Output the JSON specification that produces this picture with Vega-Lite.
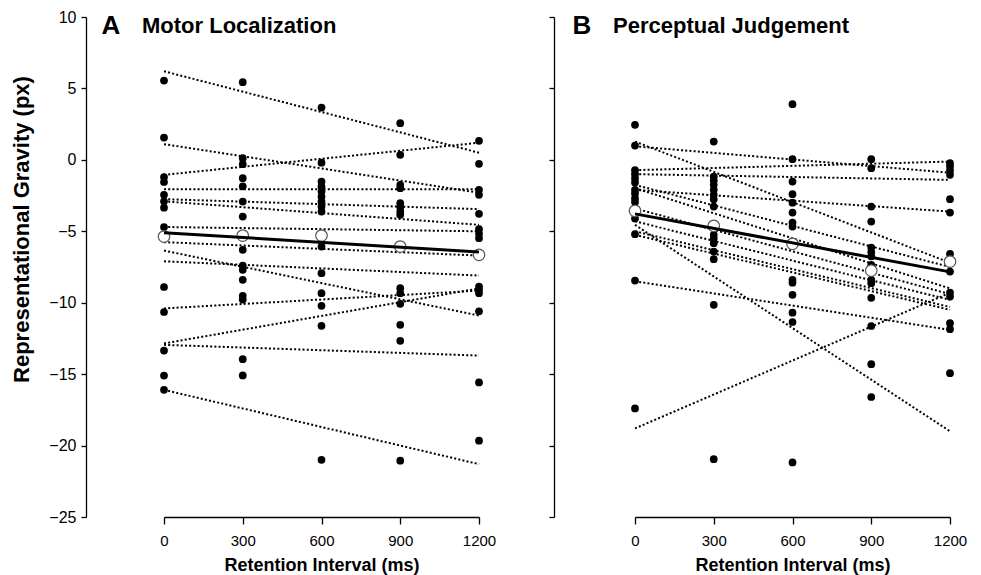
{
  "$schema": "https://vega.github.io/schema/vega-lite/v6.json",
  "padding": {"left": 10, "top": 9, "right": 10, "bottom": 5},
  "background": "white",
  "spacing": 156,
  "bounds": "flush",
  "config": {
    "view": {"stroke": null},
    "font": "Liberation Sans",
    "axis": {
      "grid": false,
      "domainColor": "black",
      "domainWidth": 1.3,
      "tickColor": "black",
      "tickWidth": 1.3,
      "labelColor": "black",
      "titleColor": "black",
      "labelFont": "Liberation Sans",
      "titleFont": "Liberation Sans",
      "titleFontWeight": "bold"
    },
    "axisX": {"tickSize": 7, "labelPadding": 9, "labelFontSize": 15, "titleFontSize": 18, "titlePadding": 8, "labelFlush": false, "format": "d"},
    "axisY": {"tickSize": 5, "labelPadding": 5, "labelFontSize": 16, "titleFontSize": 22},
    "title": {
      "anchor": "start",
      "frame": "group",
      "font": "Liberation Sans",
      "fontSize": 22,
      "fontWeight": "bold",
      "color": "black",
      "dx": -22
    }
  },
  "datasets": {
    "points": [
      {"p":"A","t":0,"g":5.55},{"p":"A","t":0,"g":1.56},{"p":"A","t":0,"g":-1.2},{"p":"A","t":0,"g":-1.55},{"p":"A","t":0,"g":-2.45},{"p":"A","t":0,"g":-2.9},{"p":"A","t":0,"g":-3.35},{"p":"A","t":0,"g":-4.7},{"p":"A","t":0,"g":-8.9},{"p":"A","t":0,"g":-10.65},{"p":"A","t":0,"g":-13.35},{"p":"A","t":0,"g":-15.1},{"p":"A","t":0,"g":-16.1},
      {"p":"A","t":300,"g":5.44},{"p":"A","t":300,"g":0.12},{"p":"A","t":300,"g":-0.3},{"p":"A","t":300,"g":-1.28},{"p":"A","t":300,"g":-1.85},{"p":"A","t":300,"g":-2.92},{"p":"A","t":300,"g":-3.97},{"p":"A","t":300,"g":-6.3},{"p":"A","t":300,"g":-7.4},{"p":"A","t":300,"g":-7.7},{"p":"A","t":300,"g":-8.4},{"p":"A","t":300,"g":-9.52},{"p":"A","t":300,"g":-9.78},{"p":"A","t":300,"g":-13.95},{"p":"A","t":300,"g":-15.09},
      {"p":"A","t":600,"g":3.66},{"p":"A","t":600,"g":-0.2},{"p":"A","t":600,"g":-1.52},{"p":"A","t":600,"g":-1.87},{"p":"A","t":600,"g":-2.22},{"p":"A","t":600,"g":-2.57},{"p":"A","t":600,"g":-2.92},{"p":"A","t":600,"g":-3.27},{"p":"A","t":600,"g":-3.62},{"p":"A","t":600,"g":-6.07},{"p":"A","t":600,"g":-7.93},{"p":"A","t":600,"g":-9.33},{"p":"A","t":600,"g":-10.22},{"p":"A","t":600,"g":-11.62},{"p":"A","t":600,"g":-21.0},
      {"p":"A","t":900,"g":2.57},{"p":"A","t":900,"g":0.35},{"p":"A","t":900,"g":-1.75},{"p":"A","t":900,"g":-1.98},{"p":"A","t":900,"g":-3.03},{"p":"A","t":900,"g":-3.31},{"p":"A","t":900,"g":-3.62},{"p":"A","t":900,"g":-3.85},{"p":"A","t":900,"g":-8.98},{"p":"A","t":900,"g":-9.33},{"p":"A","t":900,"g":-10.08},{"p":"A","t":900,"g":-11.55},{"p":"A","t":900,"g":-12.67},{"p":"A","t":900,"g":-21.06},
      {"p":"A","t":1200,"g":1.33},{"p":"A","t":1200,"g":-0.28},{"p":"A","t":1200,"g":-2.1},{"p":"A","t":1200,"g":-2.45},{"p":"A","t":1200,"g":-3.78},{"p":"A","t":1200,"g":-4.85},{"p":"A","t":1200,"g":-5.18},{"p":"A","t":1200,"g":-5.48},{"p":"A","t":1200,"g":-8.87},{"p":"A","t":1200,"g":-9.1},{"p":"A","t":1200,"g":-9.33},{"p":"A","t":1200,"g":-10.6},{"p":"A","t":1200,"g":-15.58},{"p":"A","t":1200,"g":-19.66},
      {"p":"B","t":0,"g":2.45},{"p":"B","t":0,"g":1.0},{"p":"B","t":0,"g":-0.72},{"p":"B","t":0,"g":-1.0},{"p":"B","t":0,"g":-1.3},{"p":"B","t":0,"g":-1.58},{"p":"B","t":0,"g":-2.1},{"p":"B","t":0,"g":-2.35},{"p":"B","t":0,"g":-2.7},{"p":"B","t":0,"g":-2.95},{"p":"B","t":0,"g":-4.1},{"p":"B","t":0,"g":-5.2},{"p":"B","t":0,"g":-8.45},{"p":"B","t":0,"g":-17.4},
      {"p":"B","t":300,"g":1.28},{"p":"B","t":300,"g":-1.17},{"p":"B","t":300,"g":-1.45},{"p":"B","t":300,"g":-1.75},{"p":"B","t":300,"g":-2.1},{"p":"B","t":300,"g":-2.45},{"p":"B","t":300,"g":-2.75},{"p":"B","t":300,"g":-3.27},{"p":"B","t":300,"g":-5.25},{"p":"B","t":300,"g":-5.5},{"p":"B","t":300,"g":-5.83},{"p":"B","t":300,"g":-6.42},{"p":"B","t":300,"g":-6.95},{"p":"B","t":300,"g":-10.15},{"p":"B","t":300,"g":-20.95},
      {"p":"B","t":600,"g":3.9},{"p":"B","t":600,"g":0.05},{"p":"B","t":600,"g":-1.52},{"p":"B","t":600,"g":-2.4},{"p":"B","t":600,"g":-3.0},{"p":"B","t":600,"g":-3.69},{"p":"B","t":600,"g":-4.39},{"p":"B","t":600,"g":-4.67},{"p":"B","t":600,"g":-8.4},{"p":"B","t":600,"g":-8.6},{"p":"B","t":600,"g":-9.45},{"p":"B","t":600,"g":-10.7},{"p":"B","t":600,"g":-11.35},{"p":"B","t":600,"g":-21.18},
      {"p":"B","t":900,"g":0.05},{"p":"B","t":900,"g":-0.58},{"p":"B","t":900,"g":-3.27},{"p":"B","t":900,"g":-4.32},{"p":"B","t":900,"g":-6.14},{"p":"B","t":900,"g":-6.45},{"p":"B","t":900,"g":-6.75},{"p":"B","t":900,"g":-7.35},{"p":"B","t":900,"g":-8.4},{"p":"B","t":900,"g":-8.63},{"p":"B","t":900,"g":-9.66},{"p":"B","t":900,"g":-11.63},{"p":"B","t":900,"g":-14.3},{"p":"B","t":900,"g":-16.6},
      {"p":"B","t":1200,"g":-0.23},{"p":"B","t":1200,"g":-0.47},{"p":"B","t":1200,"g":-0.75},{"p":"B","t":1200,"g":-1.05},{"p":"B","t":1200,"g":-2.75},{"p":"B","t":1200,"g":-3.69},{"p":"B","t":1200,"g":-6.58},{"p":"B","t":1200,"g":-7.82},{"p":"B","t":1200,"g":-9.29},{"p":"B","t":1200,"g":-9.57},{"p":"B","t":1200,"g":-11.43},{"p":"B","t":1200,"g":-11.85},{"p":"B","t":1200,"g":-14.93}
    ],
    "fits": [
      {"p":"A","id":1,"t":0,"g":6.2},{"p":"A","id":1,"t":1200,"g":0.5},
      {"p":"A","id":2,"t":0,"g":1.1},{"p":"A","id":2,"t":1200,"g":-2.3},
      {"p":"A","id":3,"t":0,"g":-1.05},{"p":"A","id":3,"t":1200,"g":1.2},
      {"p":"A","id":4,"t":0,"g":-2.05},{"p":"A","id":4,"t":1200,"g":-2.05},
      {"p":"A","id":5,"t":0,"g":-2.75},{"p":"A","id":5,"t":1200,"g":-3.45},
      {"p":"A","id":6,"t":0,"g":-2.9},{"p":"A","id":6,"t":1200,"g":-4.55},
      {"p":"A","id":7,"t":0,"g":-4.7},{"p":"A","id":7,"t":1200,"g":-5.0},
      {"p":"A","id":8,"t":0,"g":-5.76},{"p":"A","id":8,"t":1200,"g":-6.7},
      {"p":"A","id":9,"t":0,"g":-6.35},{"p":"A","id":9,"t":1200,"g":-10.9},
      {"p":"A","id":10,"t":0,"g":-7.1},{"p":"A","id":10,"t":1200,"g":-8.1},
      {"p":"A","id":11,"t":0,"g":-10.4},{"p":"A","id":11,"t":1200,"g":-9.15},
      {"p":"A","id":12,"t":0,"g":-12.85},{"p":"A","id":12,"t":1200,"g":-9.0},
      {"p":"A","id":13,"t":0,"g":-12.95},{"p":"A","id":13,"t":1200,"g":-13.7},
      {"p":"A","id":14,"t":0,"g":-16.1},{"p":"A","id":14,"t":1200,"g":-21.3},
      {"p":"B","id":1,"t":0,"g":1.28},{"p":"B","id":1,"t":1200,"g":-7.2},
      {"p":"B","id":2,"t":0,"g":0.95},{"p":"B","id":2,"t":1200,"g":-0.9},
      {"p":"B","id":3,"t":0,"g":-0.72},{"p":"B","id":3,"t":1200,"g":-0.12},
      {"p":"B","id":4,"t":0,"g":-1.0},{"p":"B","id":4,"t":1200,"g":-1.4},
      {"p":"B","id":5,"t":0,"g":-2.1},{"p":"B","id":5,"t":1200,"g":-3.62},
      {"p":"B","id":6,"t":0,"g":-1.75},{"p":"B","id":6,"t":1200,"g":-7.5},
      {"p":"B","id":7,"t":0,"g":-1.98},{"p":"B","id":7,"t":1200,"g":-9.0},
      {"p":"B","id":8,"t":0,"g":-3.4},{"p":"B","id":8,"t":1200,"g":-9.4},
      {"p":"B","id":9,"t":0,"g":-4.3},{"p":"B","id":9,"t":1200,"g":-9.8},
      {"p":"B","id":10,"t":0,"g":-4.55},{"p":"B","id":10,"t":1200,"g":-19.0},
      {"p":"B","id":11,"t":0,"g":-5.0},{"p":"B","id":11,"t":1200,"g":-10.3},
      {"p":"B","id":12,"t":0,"g":-5.25},{"p":"B","id":12,"t":1200,"g":-10.5},
      {"p":"B","id":13,"t":0,"g":-8.5},{"p":"B","id":13,"t":1200,"g":-11.9},
      {"p":"B","id":14,"t":0,"g":-18.8},{"p":"B","id":14,"t":1200,"g":-9.3}
    ],
    "means": [
      {"p":"A","t":0,"g":-5.37},{"p":"A","t":300,"g":-5.3},{"p":"A","t":600,"g":-5.3},{"p":"A","t":900,"g":-6.07},{"p":"A","t":1200,"g":-6.65},
      {"p":"B","t":0,"g":-3.57},{"p":"B","t":300,"g":-4.62},{"p":"B","t":600,"g":-5.88},{"p":"B","t":900,"g":-7.75},{"p":"B","t":1200,"g":-7.12}
    ],
    "meanfit": [
      {"p":"A","t":0,"g":-5.1},{"p":"A","t":1200,"g":-6.45},
      {"p":"B","t":0,"g":-3.78},{"p":"B","t":1200,"g":-7.84}
    ]
  },
  "hconcat": [
    {
      "width": 315,
      "height": 500,
      "title": {"text": "Motor Localization", "offset": -29.2},
      "resolve": {"axis": {"x": "independent"}},
      "encoding": {
        "y": {"field": "g", "type": "quantitative", "scale": {"domain": [-25, 10], "nice": false, "zero": false},
              "axis": {"values": [-25, -20, -15, -10, -5, 0, 5, 10], "offset": 78, "title": "Representational Gravity (px)", "titleX": -65, "titleY": 212, "titleBaseline": "middle"}}
      },
      "layer": [
        {"data": {"name": "fits"}, "transform": [{"filter": "datum.p === 'A'"}],
         "mark": {"type": "line", "stroke": "black", "strokeWidth": 2, "strokeDash": [2, 2.2]},
         "encoding": {
           "x": {"field": "t", "type": "quantitative", "scale": {"domain": [0, 1200], "nice": false, "zero": false},
                 "axis": {"values": [0, 300, 600, 900, 1200], "title": "Retention Interval (ms)"}},
           "detail": {"field": "id", "type": "nominal"}}},
        {"data": {"name": "points"}, "transform": [{"filter": "datum.p === 'A'"}],
         "mark": {"type": "circle", "size": 60, "color": "black", "opacity": 1},
         "encoding": {
           "x": {"field": "t", "type": "quantitative",
                 "axis": {"orient": "top", "title": "A", "labels": false, "ticks": false, "domain": false, "titleFontSize": 26, "titleX": -63, "titleY": 16.5, "titleAlign": "left", "titleBaseline": "alphabetic", "titleAngle": 0}}}},
        {"data": {"name": "means"}, "transform": [{"filter": "datum.p === 'A'"}],
         "mark": {"type": "point", "shape": "circle", "size": 133, "filled": true, "fill": "white", "stroke": "#555555", "strokeWidth": 1.2, "opacity": 1},
         "encoding": {"x": {"field": "t", "type": "quantitative", "axis": null}}},
        {"data": {"name": "meanfit"}, "transform": [{"filter": "datum.p === 'A'"}],
         "mark": {"type": "line", "stroke": "black", "strokeWidth": 3},
         "encoding": {"x": {"field": "t", "type": "quantitative", "axis": null}}}
      ]
    },
    {
      "width": 315,
      "height": 500,
      "title": {"text": "Perceptual Judgement", "offset": -25.5},
      "resolve": {"axis": {"x": "independent"}},
      "encoding": {
        "y": {"field": "g", "type": "quantitative", "scale": {"domain": [-25, 10], "nice": false, "zero": false},
              "axis": {"values": [-25, -20, -15, -10, -5, 0, 5, 10], "offset": 81, "labels": false, "title": null}}
      },
      "layer": [
        {"data": {"name": "fits"}, "transform": [{"filter": "datum.p === 'B'"}],
         "mark": {"type": "line", "stroke": "black", "strokeWidth": 2, "strokeDash": [2, 2.2]},
         "encoding": {
           "x": {"field": "t", "type": "quantitative", "scale": {"domain": [0, 1200], "nice": false, "zero": false},
                 "axis": {"values": [0, 300, 600, 900, 1200], "title": "Retention Interval (ms)"}},
           "detail": {"field": "id", "type": "nominal"}}},
        {"data": {"name": "points"}, "transform": [{"filter": "datum.p === 'B'"}],
         "mark": {"type": "circle", "size": 60, "color": "black", "opacity": 1},
         "encoding": {
           "x": {"field": "t", "type": "quantitative",
                 "axis": {"orient": "top", "title": "B", "labels": false, "ticks": false, "domain": false, "titleFontSize": 26, "titleX": -63, "titleY": 16.5, "titleAlign": "left", "titleBaseline": "alphabetic", "titleAngle": 0}}}},
        {"data": {"name": "means"}, "transform": [{"filter": "datum.p === 'B'"}],
         "mark": {"type": "point", "shape": "circle", "size": 133, "filled": true, "fill": "white", "stroke": "#555555", "strokeWidth": 1.2, "opacity": 1},
         "encoding": {"x": {"field": "t", "type": "quantitative", "axis": null}}},
        {"data": {"name": "meanfit"}, "transform": [{"filter": "datum.p === 'B'"}],
         "mark": {"type": "line", "stroke": "black", "strokeWidth": 3},
         "encoding": {"x": {"field": "t", "type": "quantitative", "axis": null}}}
      ]
    }
  ]
}
